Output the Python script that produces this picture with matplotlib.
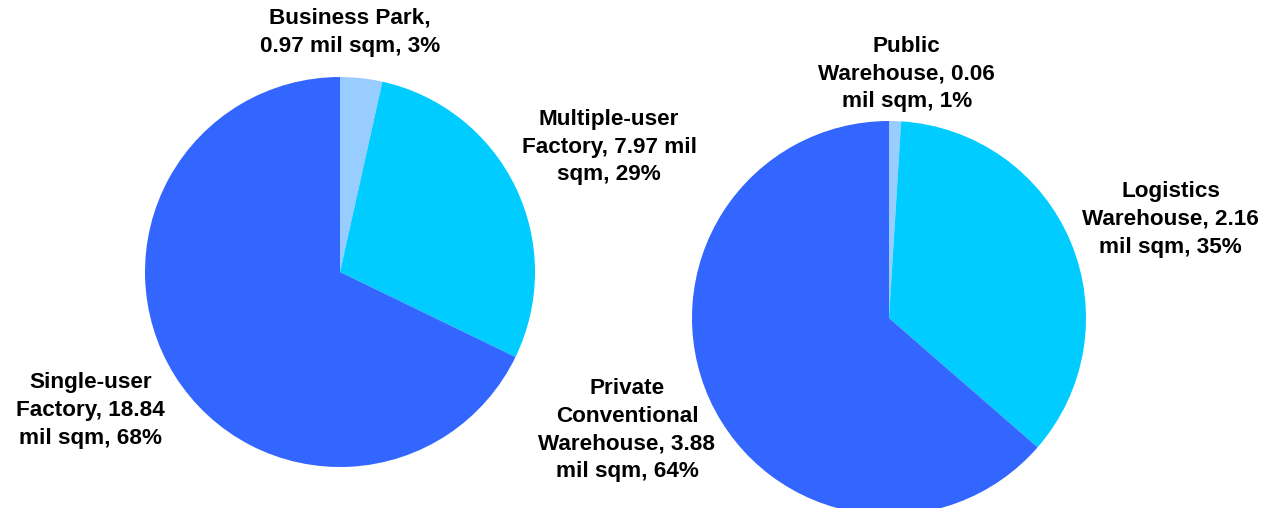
import matplotlib
matplotlib.use("Agg")
import matplotlib.pyplot as plt

# Data
left_labels = ["Business Park", "Multiple-user Factory", "Single-user Factory"]
left_values = [0.97, 7.97, 18.84]
left_pct = [3, 29, 68]
left_text = ["Business Park,\n0.97 mil sqm, 3%",
             "Multiple-user\nFactory, 7.97 mil\nsqm, 29%",
             "Single-user\nFactory, 18.84\nmil sqm, 68%"]

right_labels = ["Public Warehouse", "Logistics Warehouse", "Private Conventional Warehouse"]
right_values = [0.06, 2.16, 3.88]
right_pct = [1, 35, 64]
right_text = ["Public\nWarehouse, 0.06\nmil sqm, 1%",
              "Logistics\nWarehouse, 2.16\nmil sqm, 35%",
              "Private\nConventional\nWarehouse, 3.88\nmil sqm, 64%"]

colors = ["#99CCFF", "#00CCFF", "#3366FF"]

plt.rcParams['font.family'] = ['Liberation Sans', 'DejaVu Sans']

W, H = 1271, 508
fig = plt.figure(figsize=(W / 100, H / 100), dpi=100)

ax1 = fig.add_axes([145 / W, 41 / H, 390 / W, 390 / H])
ax2 = fig.add_axes([692 / W, -7 / H, 394 / W, 394 / H])

left_pos = [(0.05, 1.23), (1.38, 0.64), (-1.28, -0.71)]
right_pos = [(0.09, 1.24), (1.43, 0.50), (-1.33, -0.57)]

for ax, vals, texts, pos in [(ax1, left_values, left_text, left_pos),
                             (ax2, right_values, right_text, right_pos)]:
    ax.pie(vals, colors=colors, startangle=90, counterclock=False, radius=1,
           wedgeprops=dict(linewidth=0))
    ax.set_xlim(-1, 1)
    ax.set_ylim(-1, 1)
    ax.set_aspect('equal')
    ax.axis('off')
    for t, (x, y) in zip(texts, pos):
        ax.text(x, y, t, ha='center', va='center', fontsize=16.2, fontweight='bold',
                linespacing=1.42, clip_on=False)

fig.savefig("out.png", dpi=100)
